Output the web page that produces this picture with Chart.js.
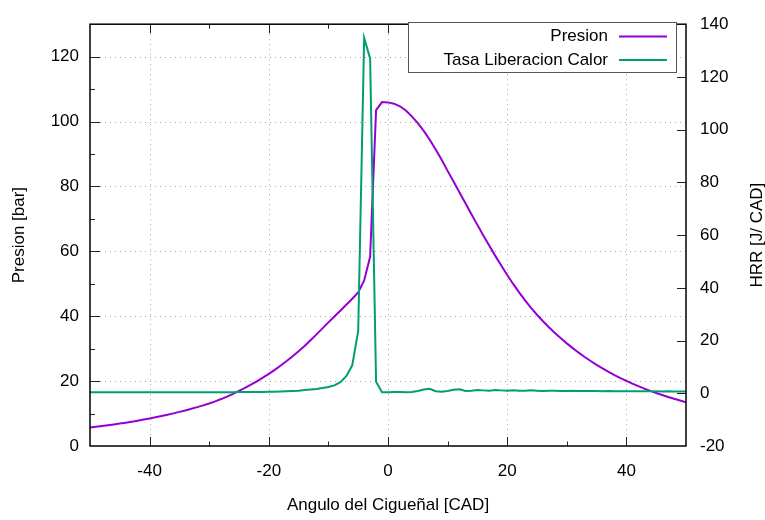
<!DOCTYPE html>
<html>
<head>
<meta charset="utf-8">
<script src="https://cdn.jsdelivr.net/npm/chart.js@4.4.1/dist/chart.umd.min.js"></script>
<style>
  html, body { margin: 0; padding: 0; background: #fff; }
  #wrap { width: 765px; height: 520px; }
</style>
</head>
<body>
<div id="wrap"><canvas id="chart" width="765" height="520"></canvas></div>
<script>
// crank angle (CAD)
const cad = [
  -50, -49, -48, -47, -46, -45, -44, -43, -42, -41,
  -40, -39, -38, -37, -36, -35, -34, -33, -32, -31,
  -30, -29, -28, -27, -26, -25, -24, -23, -22, -21,
  -20, -19, -18, -17, -16, -15, -14, -13, -12, -11,
  -10, -9, -8, -7, -6, -5, -4, -3, -2, -1,
  0, 1, 2, 3, 4, 5, 6, 7, 8, 9,
  10, 11, 12, 13, 14, 15, 16, 17, 18, 19,
  20, 21, 22, 23, 24, 25, 26, 27, 28, 29,
  30, 31, 32, 33, 34, 35, 36, 37, 38, 39,
  40, 41, 42, 43, 44, 45, 46, 47, 48, 49, 50
];

// cylinder pressure [bar]
const presion = [
  5.70, 5.92, 6.15, 6.39, 6.65, 6.92, 7.20, 7.50, 7.81, 8.15,
  8.50, 8.86, 9.24, 9.64, 10.06, 10.51, 10.97, 11.46, 11.98, 12.53,
  13.12, 13.76, 14.47, 15.24, 16.07, 16.96, 17.90, 18.90, 19.95, 21.05,
  22.22, 23.48, 24.81, 26.21, 27.69, 29.23, 30.85, 32.60, 34.40, 36.25,
  38.10, 39.90, 41.70, 43.55, 45.40, 47.30, 51.0, 58.3, 103.5, 106.0,
  105.9, 105.5, 104.7, 103.4, 101.6, 99.5, 97.1, 94.4, 91.4, 88.2,
  84.8, 81.5, 78.15, 74.8, 71.45, 68.15, 64.9, 61.7, 58.6, 55.6,
  52.7, 49.95, 47.35, 44.9, 42.6, 40.45, 38.45, 36.58, 34.83, 33.18,
  31.63, 30.16, 28.76, 27.44, 26.19, 25.01, 23.9, 22.85, 21.86, 20.93,
  20.05, 19.22, 18.44, 17.7, 17.0, 16.34, 15.71, 15.11, 14.54, 14.0, 13.49
];

// heat release rate [J/CAD]
const hrr = [
  0.4, 0.4, 0.4, 0.4, 0.4, 0.4, 0.4, 0.4, 0.4, 0.4,
  0.4, 0.4, 0.4, 0.4, 0.4, 0.4, 0.4, 0.4, 0.4, 0.4,
  0.4, 0.4, 0.4, 0.4, 0.4, 0.5, 0.5, 0.5, 0.5, 0.5,
  0.6, 0.6, 0.7, 0.8, 0.9, 1.0, 1.2, 1.4, 1.6, 2.0,
  2.4, 3.0, 4.2, 6.5, 10.6, 23.7, 134.8, 127.0, 4.4, 0.4,
  0.4, 0.5, 0.5, 0.4, 0.5, 0.9, 1.4, 1.7, 0.8, 0.6,
  0.9, 1.3, 1.5, 0.9, 1.0, 1.2, 1.1, 1.0, 1.2, 1.1,
  1.0, 1.1, 1.0, 1.0, 1.1, 1.0, 0.9, 1.0, 1.0, 0.9,
  0.9, 1.0, 0.9, 0.9, 0.9, 0.9, 0.8, 0.9, 0.8, 0.8,
  0.8, 0.8, 0.8, 0.8, 0.8, 0.8, 0.7, 0.8, 0.7, 0.7, 0.7
];

const seriesNames = ['Presion', 'Tasa Liberacion Calor'];
const seriesColors = ['#9400d3', '#009e73'];

const FONT = '"Liberation Sans", Arial, Helvetica, sans-serif';
const FS = 17;

// gnuplot look: dotted grid, inward ticks, frame, boxed legend, y2 label
const gnuplotFrame = {
  id: 'gnuplotFrame',
  beforeDatasetsDraw(chart) {
    const { ctx, chartArea: a, scales } = chart;
    ctx.save();
    ctx.strokeStyle = '#a8a8a8';
    ctx.lineWidth = 1;
    ctx.setLineDash([1, 4]);
    ctx.beginPath();
    scales.x.ticks.forEach(t => {
      if (t.value % 20 !== 0 || t.value <= scales.x.min || t.value >= scales.x.max) return;
      const px = Math.round(scales.x.getPixelForValue(t.value)) + 0.5;
      ctx.moveTo(px, a.top); ctx.lineTo(px, a.bottom);
    });
    scales.y.ticks.forEach(t => {
      if (t.value % 20 !== 0 || t.value <= scales.y.min || t.value >= scales.y.max) return;
      const py = Math.round(scales.y.getPixelForValue(t.value)) + 0.5;
      ctx.moveTo(a.left, py); ctx.lineTo(a.right, py);
    });
    ctx.stroke();
    ctx.restore();
  },
  afterDatasetsDraw(chart) {
    const { ctx, chartArea: a, scales } = chart;
    ctx.save();
    ctx.strokeStyle = '#222';
    ctx.lineWidth = 1;
    ctx.beginPath();
    scales.x.ticks.forEach(t => {
      if (t.value <= scales.x.min || t.value >= scales.x.max) return;
      const len = t.value % 20 === 0 ? 9 : 4.5;
      const px = Math.round(scales.x.getPixelForValue(t.value)) + 0.5;
      ctx.moveTo(px, a.bottom); ctx.lineTo(px, a.bottom - len);
      ctx.moveTo(px, a.top); ctx.lineTo(px, a.top + len);
    });
    scales.y.ticks.forEach(t => {
      if (t.value <= scales.y.min || t.value >= scales.y.max) return;
      const len = t.value % 20 === 0 ? 10 : 5;
      const py = Math.round(scales.y.getPixelForValue(t.value)) + 0.5;
      ctx.moveTo(a.left, py); ctx.lineTo(a.left + len, py);
    });
    scales.y2.ticks.forEach(t => {
      if (t.value <= scales.y2.min || t.value >= scales.y2.max) return;
      const py = Math.round(scales.y2.getPixelForValue(t.value)) + 0.5;
      ctx.moveTo(a.right, py); ctx.lineTo(a.right - 9, py);
    });
    ctx.stroke();

    // frame
    ctx.strokeStyle = '#000';
    ctx.lineWidth = 1.5;
    ctx.strokeRect(a.left, a.top, a.right - a.left, a.bottom - a.top);

    // legend box
    const bx = 408.5, by = 22.5, bw = 268, bh = 50;
    ctx.fillStyle = '#fff';
    ctx.fillRect(bx, by, bw, bh);
    ctx.strokeStyle = '#555';
    ctx.lineWidth = 1;
    ctx.strokeRect(bx, by, bw, bh);
    ctx.font = FS + 'px ' + FONT;
    ctx.textAlign = 'right';
    ctx.textBaseline = 'middle';
    const rows = [36.5, 60];
    seriesNames.forEach((name, i) => {
      ctx.fillStyle = '#000';
      ctx.fillText(name, 608, rows[i]);
      ctx.strokeStyle = seriesColors[i];
      ctx.lineWidth = 2;
      ctx.beginPath();
      ctx.moveTo(619, rows[i]); ctx.lineTo(667, rows[i]);
      ctx.stroke();
    });

    // right axis title, reading bottom-to-top like gnuplot
    ctx.translate(757, (a.top + a.bottom) / 2);
    ctx.rotate(-Math.PI / 2);
    ctx.textAlign = 'center';
    ctx.fillStyle = '#000';
    ctx.fillText('HRR [J/ CAD]', 0, 0);
    ctx.restore();
  }
};

const points = ys => cad.map((c, i) => ({ x: c, y: ys[i] }));

new Chart(document.getElementById('chart'), {
  type: 'line',
  data: {
    datasets: [
      {
        label: seriesNames[0],
        data: points(presion),
        yAxisID: 'y',
        borderColor: seriesColors[0],
        borderWidth: 2,
        pointRadius: 0,
        tension: 0,
        fill: false,
        order: 1
      },
      {
        label: seriesNames[1],
        data: points(hrr),
        yAxisID: 'y2',
        borderColor: seriesColors[1],
        borderWidth: 2,
        pointRadius: 0,
        tension: 0,
        fill: false,
        order: 0
      }
    ]
  },
  options: {
    responsive: false,
    animation: false,
    layout: { padding: { top: 14, left: 0, right: 0, bottom: 0 } },
    plugins: { legend: { display: false }, tooltip: { enabled: false } },
    scales: {
      x: {
        type: 'linear',
        min: -50, max: 50,
        grid: { display: false, drawTicks: false },
        border: { display: false },
        ticks: {
          stepSize: 10,
          padding: 15,
          color: '#000',
          font: { family: FONT, size: FS },
          maxRotation: 0,
          callback: v => (v % 20 === 0 ? v : '')
        },
        title: {
          display: true,
          text: 'Angulo del Cigueñal [CAD]',
          color: '#000',
          font: { family: FONT, size: FS },
          padding: { top: 0, bottom: 4 }
        },
        afterFit: s => { s.height = 74; }
      },
      y: {
        position: 'left',
        min: 0, max: 130,
        grid: { display: false, drawTicks: false },
        border: { display: false },
        ticks: {
          stepSize: 10,
          padding: 11,
          color: '#000',
          font: { family: FONT, size: FS },
          callback: v => (v % 20 === 0 ? v : '')
        },
        title: {
          display: true,
          text: 'Presion [bar]',
          color: '#000',
          font: { family: FONT, size: FS },
          padding: { top: 9, bottom: 0 }
        },
        afterFit: s => { s.width = 90; }
      },
      y2: {
        position: 'right',
        min: -20, max: 140,
        grid: { display: false, drawTicks: false },
        border: { display: false },
        ticks: {
          stepSize: 20,
          padding: 14,
          color: '#000',
          font: { family: FONT, size: FS }
        },
        afterFit: s => { s.width = 79; }
      }
    }
  },
  plugins: [gnuplotFrame]
});
</script>
</body>
</html>
